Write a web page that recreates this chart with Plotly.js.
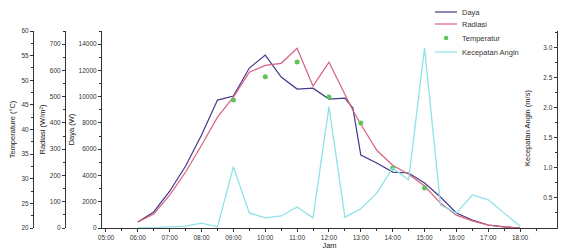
<!DOCTYPE html>
<html><head><meta charset="utf-8">
<script src="https://cdn.plot.ly/plotly-3.0.1.min.js"></script>
<style>html,body{margin:0;padding:0;background:#fff}#chart{width:563px;height:250px}</style>
</head><body><div id="chart"></div>
<script>
// ---- data ----
const times = ["06:00","06:30","07:00","07:30","08:00","08:30","09:00","09:30","10:00","10:30","11:00","11:30","12:00","12:30","12:45","13:00","13:30","14:00","14:30","15:00","15:30","16:00","16:30","17:00","17:30","18:00"];
const daya = [460,1220,2800,4720,7080,9740,10050,12180,13170,11490,10580,10650,9820,9890,9130,5560,4950,4260,4190,3420,2360,1140,610,230,80,0];
const radiasi = [23,53,125,213,315,422,498,593,619,627,684,540,631,505,448,395,296,239,205,160,95,49,27,11,4,0];
const tempTimes = ["09:00","10:00","11:00","12:00","13:00","14:00","15:00"];
const temperatur = [46.0,50.7,53.7,46.6,41.3,32.2,28.1];
const windTimes = ["06:00","06:30","07:00","07:30","08:00","08:30","09:00","09:30","10:00","10:30","11:00","11:30","12:00","12:30","13:00","13:30","14:00","14:30","15:00","15:30","16:00","16:30","17:00","17:30","18:00"];
const angin = [0,0,0.02,0.03,0.08,0.02,1.02,0.25,0.17,0.2,0.35,0.17,2.02,0.18,0.32,0.58,1.0,0.8,3.0,0.38,0.25,0.55,0.47,0.25,0.03];
const xTickLabels = ["05:00","06:00","07:00","08:00","09:00","10:00","11:00","12:00","13:00","14:00","15:00","16:00","17:00","18:00","19:00"];
const seriesNames = ["Daya","Radiasi","Temperatur","Kecepatan Angin"];

const day = "2024-01-01 ";
const toX = a => a.map(t => day + t);

const C = {daya:"#45378a", rad:"#d9607e", temp:"#5cc45a", wind:"#8fe2e8"};
const FAM = "Liberation Sans, Arial, sans-serif";
const tickFont = {family:FAM, size:6.5, color:"#333"};
const titleFont = {family:FAM, size:7.5, color:"#222"};

const traces = [
  {x:toX(times), y:daya, name:seriesNames[0], type:"scatter", mode:"lines", line:{color:C.daya,width:1.2}, yaxis:"y"},
  {x:toX(times), y:radiasi, name:seriesNames[1], type:"scatter", mode:"lines", line:{color:C.rad,width:1.2}, yaxis:"y2"},
  {x:toX(tempTimes), y:temperatur, name:seriesNames[2], type:"scatter", mode:"markers", marker:{color:C.temp,size:5,symbol:"circle"}, yaxis:"y3"},
  {x:toX(windTimes), y:angin, name:seriesNames[3], type:"scatter", mode:"lines", line:{color:C.wind,width:1.3}, yaxis:"y4"}
];

const W = 563, TOP = 31, BOT = 228, PH = BOT - TOP;
const px2x = p => p / W, px2y = p => (BOT - p) / PH;
const yBase = {showgrid:false, zeroline:false, showline:true, linecolor:"#333", linewidth:1, ticks:"outside", ticklen:3, tickcolor:"#333", tickfont:tickFont, automargin:false};
const minorT = d => ({dtick:d, ticks:"outside", ticklen:2, tickcolor:"#333"});

const legendY = [12,24,38,52];
const shapes = [], annotations = [];
[0,1,3].forEach(i => {
  const col = [C.daya,C.rad,null,C.wind][i];
  shapes.push({type:"line", xref:"paper", yref:"paper", x0:px2x(435), x1:px2x(457), y0:px2y(legendY[i]), y1:px2y(legendY[i]), line:{color:col,width:1.2}});
});
shapes.push({type:"circle", xref:"paper", yref:"paper", x0:px2x(443.8), x1:px2x(448.4), y0:px2y(legendY[2]+2.3), y1:px2y(legendY[2]-2.3), fillcolor:C.temp, line:{width:0}});
seriesNames.forEach((n,i) => annotations.push({xref:"paper", yref:"paper", x:px2x(460), y:px2y(legendY[i]), text:n, showarrow:false, xanchor:"left", yanchor:"middle", font:{family:FAM, size:7.5, color:"#333"}}));
// right axis title sits inside, left of its tick labels (as in the reference)
annotations.push({xref:"paper", yref:"paper", x:px2x(527), y:px2y(128), text:"Kecepatan Angin (m/s)", textangle:-90, showarrow:false, xanchor:"center", yanchor:"middle", font:titleFont});

const layout = {
  width:563, height:250, margin:{l:0,r:0,t:TOP,b:250-BOT}, paper_bgcolor:"#fff", plot_bgcolor:"#fff", showlegend:false,
  xaxis:{type:"date", domain:[px2x(102),px2x(557)], range:[day+"04:52:30", day+"19:09:30"], tickvals:toX(xTickLabels), ticktext:xTickLabels,
    showgrid:false, zeroline:false, showline:true, linecolor:"#333", ticks:"outside", ticklen:3, tickcolor:"#333", tickfont:tickFont,
    minor:{dtick:1800000, ticks:"outside", ticklen:2, tickcolor:"#333"}, automargin:false,
    title:{text:"Jam", font:titleFont, standoff:9}},
  yaxis:Object.assign({}, yBase, {range:[0,15000], dtick:2000, tickformat:"d", minor:minorT(1000), title:{text:"Daya (W)", font:titleFont, standoff:2}}),
  yaxis2:Object.assign({}, yBase, {overlaying:"y", anchor:"free", position:px2x(65), side:"left", range:[0,750], dtick:100, tickformat:"d", minor:minorT(50), title:{text:"Radiasi (W/m²)", font:titleFont, standoff:2}}),
  yaxis3:Object.assign({}, yBase, {overlaying:"y", anchor:"free", position:px2x(33), side:"left", range:[20,60], dtick:5, minor:minorT(2.5), title:{text:"Temperature (°C)", font:titleFont, standoff:3}}),
  yaxis4:Object.assign({}, yBase, {overlaying:"y", anchor:"x", side:"right", range:[0,3.28], dtick:0.5, tickformat:".1f", ticks:"inside", ticklabelposition:"inside", minor:{dtick:0.25, ticks:"inside", ticklen:2, tickcolor:"#333"}}),
  shapes:shapes, annotations:annotations
};
Plotly.newPlot("chart", traces, layout, {displayModeBar:false, staticPlot:true});
</script></body></html>
